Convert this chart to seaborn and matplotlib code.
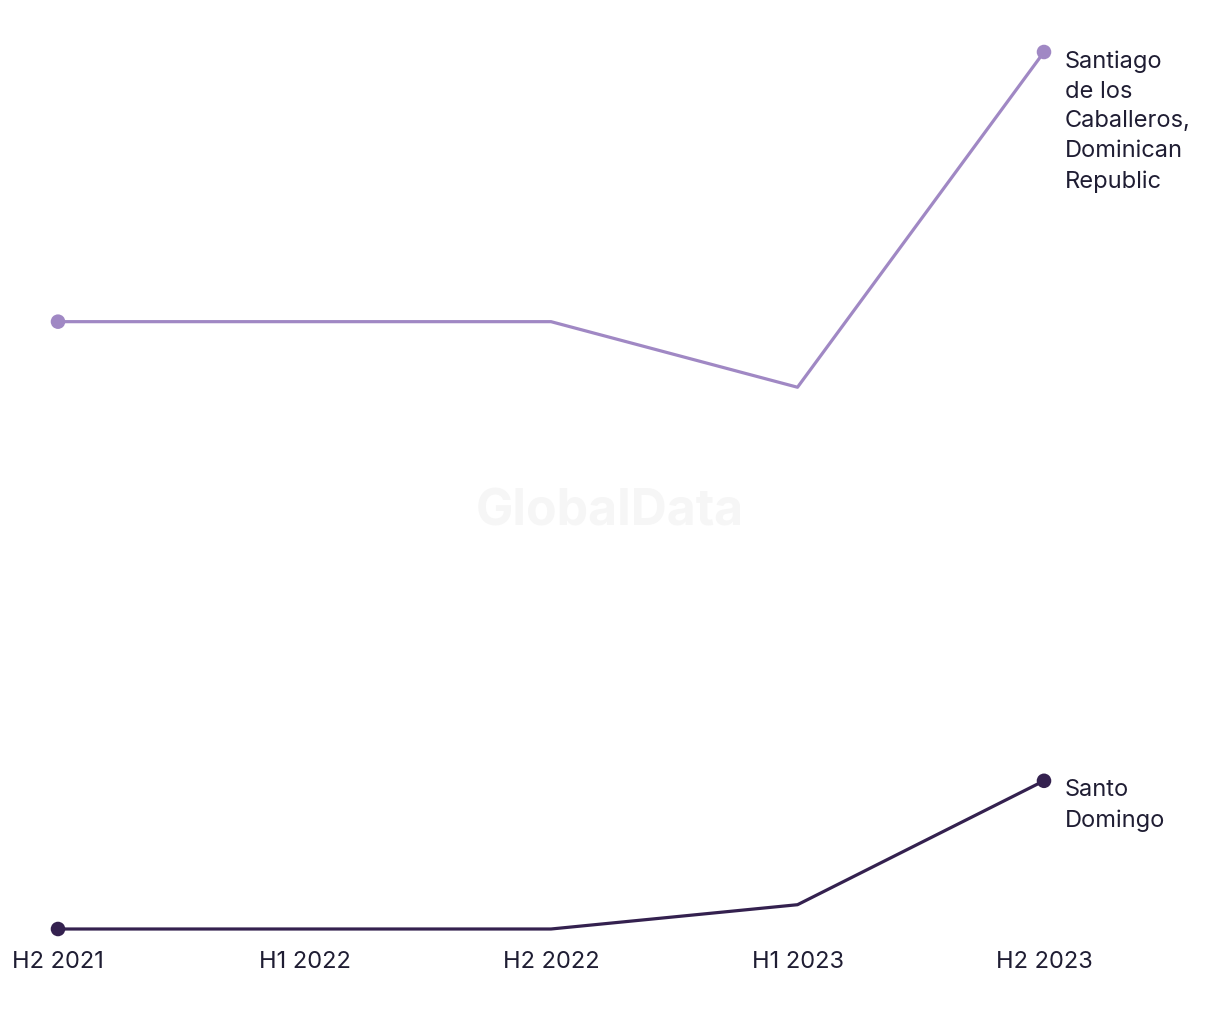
import pandas as pd
import matplotlib.pyplot as plt
import seaborn as sns

periods = ["H2 2021", "H1 2022", "H2 2022", "H1 2023", "H2 2023"]
santiago = [25.0, 25.0, 25.0, 22.3, 36.1]
santo_domingo = [0.0, 0.0, 0.0, 1.0, 6.1]
cities = ["Santiago\nde los\nCaballeros,\nDominican\nRepublic", "Santo\nDomingo"]
colors = ["#a088c4", "#34214f"]

sns.set_theme(style="white")
plt.rcParams["font.family"] = ["Inter", "DejaVu Sans"]

rows = []
for city, vals in zip(cities, [santiago, santo_domingo]):
    for i, (p, v) in enumerate(zip(periods, vals)):
        rows.append({"idx": i, "period": p, "value": v, "city": city})
df = pd.DataFrame(rows)

fig = plt.figure(figsize=(12.2, 10.2), dpi=100)
ax = fig.add_axes([58 / 1220, 90 / 1020, (1044 - 58) / 1220, (930 - 53) / 1020])

pal = dict(zip(cities, colors))
sns.lineplot(data=df, x="idx", y="value", hue="city", palette=pal, linewidth=2.3,
             legend=False, ax=ax, clip_on=False)
ends = df[df["idx"].isin([0, len(periods) - 1])]
sns.scatterplot(data=ends, x="idx", y="value", hue="city", palette=pal, s=110,
                edgecolor="none", legend=False, ax=ax, clip_on=False, zorder=5)

for city, vals, c in zip(cities, [santiago, santo_domingo], colors):
    ax.annotate(city, xy=(len(periods) - 1, vals[-1]), xytext=(15, 2),
                textcoords="offset points", va="top", ha="left",
                fontsize=17, color="#1f1d33", linespacing=1.46,
                annotation_clip=False)

fig.text(0.5, 1 - 512 / 1020, "GlobalData", ha="center", va="center",
         fontsize=36, fontweight="bold", color="#f6f6f6", zorder=0)

ax.set_xlim(0, len(periods) - 1)
ax.set_ylim(0, max(santiago))
ax.set_xticks(range(len(periods)))
ax.set_xticklabels(periods, fontsize=17, color="#1f1d33")
ax.tick_params(axis="x", length=0, pad=15)
ax.set_yticks([])
ax.set_xlabel("")
ax.set_ylabel("")
sns.despine(ax=ax, left=True, bottom=True)
ax.patch.set_alpha(0)

fig.savefig("out.png", dpi=100)
